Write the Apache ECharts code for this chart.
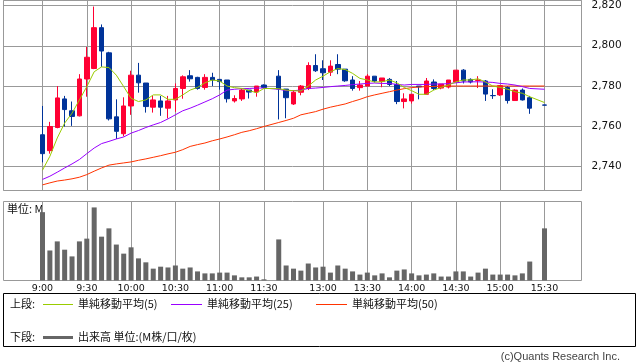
<!DOCTYPE html>
<html><head><meta charset="utf-8">
<script src="https://cdn.jsdelivr.net/npm/echarts@6/dist/echarts.min.js"></script>
<style>html,body{margin:0;padding:0;background:#fff}#c{width:638px;height:362px}</style>
</head><body><div id="c"></div>
<script>
// ---- categories (5-minute slots; '' = lunch spacer) ----
const times = ['9:00','9:05','9:10','9:15','9:20','9:25','9:30','9:35','9:40','9:45','9:50','9:55',
'10:00','10:05','10:10','10:15','10:20','10:25','10:30','10:35','10:40','10:45','10:50','10:55',
'11:00','11:05','11:10','11:15','11:20','11:25','11:30','',
'12:30','12:35','12:40','12:45','12:50','12:55','13:00','13:05','13:10','13:15','13:20','13:25',
'13:30','13:35','13:40','13:45','13:50','13:55','14:00','14:05','14:10','14:15','14:20','14:25',
'14:30','14:35','14:40','14:45','14:50','14:55','15:00','15:05','15:10','15:15','15:20','15:25','15:30'];
const gridTimes = ['9:00','9:30','10:00','10:30','11:00','11:30','13:00','13:30','14:00','14:30','15:00','15:30'];
const priceTicks = [2740,2760,2780,2800,2820];

// ---- OHLC ----
const open = [2755.8,2747.9,2759.4,2773.6,2767.7,2765.2,2783.5,2788.7,2809.0,2796.5,
2764.7,2756.3,2770.1,2785.4,2781.5,2769.5,2772.6,2769.0,2773.1,2778.8,
2785.1,2784.3,2779.3,2784.3,2783.3,2783.0,2772.6,2773.6,2778.0,2777.0,
2780.5,null,2784.9,2778.5,2771.1,2776.9,2778.8,2790.2,2788.6,2786.9,
2790.7,2788.4,2783.0,2779.2,2780.0,2784.9,2782.3,2783.3,2780.8,2772.3,
2772.6,2780.0,2775.9,2782.0,2779.0,2779.5,2782.0,2787.9,2783.3,2782.8,
2782.5,2775.3,2775.6,2779.3,2772.8,2778.0,2774.2,null,2770.6];
const close = [2746.4,2759.9,2774.1,2768.3,2764.9,2783.5,2794.3,2809.0,2797.4,2763.7,
2757.5,2770.1,2785.4,2781.6,2769.8,2773.1,2769.5,2772.6,2778.8,2784.6,
2783.6,2778.8,2784.3,2783.0,2782.2,2773.7,2773.8,2778.0,2777.0,2780.0,
2779.3,null,2778.5,2774.2,2776.9,2780.0,2790.2,2787.6,2786.6,2789.9,
2788.4,2782.6,2778.8,2780.5,2784.9,2782.5,2784.0,2780.8,2772.3,2773.6,
2775.9,2779.6,2782.5,2778.8,2781.0,2783.0,2787.9,2782.5,2782.0,2783.0,
2776.0,2775.2,2780.2,2772.8,2778.0,2773.1,2769.0,null,2770.5];
const low = [2742.1,2746.4,2759.0,2759.9,2760.2,2764.9,2774.7,2788.4,2789.5,2762.9,
2753.7,2755.0,2765.7,2776.7,2766.8,2766.8,2765.2,2763.9,2767.2,2773.7,
2782.2,2778.2,2778.2,2780.0,2778.2,2771.8,2771.8,2772.6,2773.8,2774.7,
2778.8,null,2763.4,2764.0,2770.6,2775.4,2778.0,2787.0,2783.0,2785.0,
2785.9,2782.1,2777.7,2777.7,2780.0,2781.8,2779.4,2780.0,2771.0,2768.9,
2771.3,2773.4,2775.9,2778.0,2778.4,2778.8,2782.0,2781.3,2781.3,2779.0,
2772.6,2773.6,2775.1,2771.3,2772.8,2772.8,2766.2,null,2770.5];
const high = [2770.1,2762.2,2780.0,2775.1,2772.3,2785.9,2799.4,2819.5,2810.6,2797.0,
2773.4,2774.4,2787.6,2791.5,2781.5,2775.1,2775.1,2775.1,2781.3,2785.3,
2787.9,2784.6,2785.9,2786.6,2783.5,2783.0,2775.4,2778.8,2778.0,2780.0,
2780.8,null,2787.9,2778.5,2778.0,2780.5,2791.8,2795.8,2792.8,2792.8,
2795.8,2788.4,2784.9,2782.5,2785.9,2784.9,2784.0,2784.0,2782.5,2776.4,
2775.9,2780.0,2784.0,2783.3,2781.0,2783.0,2787.9,2788.4,2783.8,2784.9,
2783.0,2778.4,2780.5,2780.0,2778.4,2778.8,2775.1,null,2770.6];

// ---- moving averages ----
const ma5 = [2738.2,2745.1,2754.2,2761.6,2766.5,2773.1,2779.7,2787.1,2789.5,2789.2,
2785.4,2779.7,2773.9,2772.3,2773.1,2775.6,2775.6,2773.4,2773.4,2775.6,
2778.0,2779.3,2781.6,2783.0,2782.5,2780.0,2779.2,2778.8,2777.7,2776.7,
2778.8,null,2778.7,2778.0,2777.7,2777.5,2780.0,2783.0,2784.9,2787.1,
2788.7,2788.2,2786.3,2783.8,2783.0,2782.0,2782.1,2783.0,2781.6,2779.3,
2777.7,2775.9,2775.9,2778.0,2779.3,2780.5,2782.1,2783.0,2783.0,2783.6,
2782.0,2780.0,2779.3,2778.4,2777.2,2776.4,2774.7,null,2771.8];
const ma25 = [2733.6,2735.2,2737.2,2739.3,2741.3,2743.5,2746.4,2749.2,2751.4,2752.5,
2753.7,2754.7,2756.6,2757.9,2759.4,2760.7,2761.9,2763.7,2765.7,2767.7,
2769.0,2770.5,2772.1,2773.7,2775.6,2778.0,2778.4,2778.7,2778.8,2779.0,
2779.0,null,2778.4,2777.7,2777.7,2778.0,2778.8,2779.0,2779.3,2779.7,
2780.0,2780.3,2780.7,2781.0,2781.3,2781.5,2781.3,2781.3,2780.8,2780.5,
2780.8,2780.8,2780.8,2781.0,2781.0,2781.2,2781.6,2782.0,2782.1,2782.1,
2782.0,2781.8,2781.3,2781.0,2780.5,2779.7,2778.8,null,2778.4];
const ma50 = [2730.9,2731.9,2732.8,2733.3,2733.9,2734.7,2736.0,2737.7,2739.3,2740.7,
2741.3,2741.8,2742.3,2743.1,2743.8,2744.6,2745.4,2746.3,2747.1,2748.4,
2750.0,2750.9,2751.7,2752.8,2753.7,2754.7,2755.8,2757.0,2757.8,2758.8,
2759.9,null,2761.9,2762.9,2764.0,2765.7,2766.5,2767.3,2768.5,2769.5,
2770.3,2771.1,2772.3,2773.4,2774.7,2775.6,2776.4,2777.2,2778.0,2778.7,
2779.2,2779.5,2779.7,2779.8,2780.0,2780.0,2780.0,2780.0,2780.0,2780.0,
2780.0,2780.0,2780.0,2780.0,2780.0,2780.0,2780.0,null,2780.0];

// ---- volume (M) ----
const volume = [1.73,0.76,0.99,0.78,0.61,0.99,1.06,1.85,1.11,1.32,
0.91,0.68,0.84,0.56,0.46,0.30,0.35,0.33,0.38,0.30,
0.33,0.23,0.18,0.18,0.20,0.20,0.13,0.08,0.08,0.10,
0.03,null,1.04,0.38,0.30,0.25,0.43,0.33,0.35,0.20,
0.38,0.30,0.23,0.15,0.20,0.13,0.18,0.08,0.25,0.28,
0.18,0.13,0.15,0.18,0.10,0.10,0.23,0.23,0.10,0.20,
0.30,0.15,0.15,0.15,0.13,0.18,0.48,null,1.32];

const legendTop = '上段:';
const legendBottom = '下段:';
const maNames = ['単純移動平均(5)','単純移動平均(25)','単純移動平均(50)'];
const volName = '出来高 単位:(M株/口/枚)';
const volUnit = '単位: M';
const credit = '(c)Quants Research Inc.';

// ---- build ----
const PAD = 5;
const padL = ['a1','a2','a3','a4','a5'];
const padR = ['b1','b2','b3','b4','b5'];
const cats = padL.concat(times, padR);
const pad = arr => Array(PAD).fill('-').concat(arr.map(v => v == null ? '-' : v), Array(PAD).fill('-'));
const candles = pad(times.map((t, i) => open[i] == null ? null : [open[i], close[i], low[i], high[i]]));
const isGrid = (idx, val) => gridTimes.indexOf(val) >= 0;

const RED = '#ff0033', BLUE = '#003399', GRIDC = '#999';
const C5 = '#99cc00', C25 = '#9900ff', C50 = '#ff3300';
const PMIN = 2728.1, PMAX = 2822.5;
const slotW = 502 / 68;
const dataLeft = 42.5 - PAD * slotW;
const dataWidth = (times.length - 1 + 2 * PAD) * slotW;
const CJK = '"Noto Sans CJK JP", sans-serif';

const chart = echarts.init(document.getElementById('c'), null, {renderer: 'canvas'});
chart.setOption({
  animation: false,
  backgroundColor: '#fff',
  grid: [
    {left: 3.5, top: 0.5, width: 578, height: 190, show: true, borderColor: GRIDC, borderWidth: 1, backgroundColor: 'transparent'},
    {left: dataLeft, top: 0.5, width: dataWidth, height: 190, show: false},
    {left: 3.5, top: 201.5, width: 578, height: 79, show: true, borderColor: GRIDC, borderWidth: 1, backgroundColor: 'transparent'},
    {left: dataLeft, top: 201.5, width: dataWidth, height: 79, show: false},
    {left: 3.5, top: 5.5, width: 578, height: 161, show: false}
  ],
  xAxis: [
    {gridIndex: 0, type: 'value', show: false, min: 0, max: 1},
    {gridIndex: 1, type: 'category', data: cats, boundaryGap: false,
     axisLine: {show: false}, axisTick: {show: false}, axisLabel: {show: false},
     splitLine: {show: true, interval: isGrid, lineStyle: {color: GRIDC, width: 1}}},
    {gridIndex: 2, type: 'value', show: false, min: 0, max: 1},
    {gridIndex: 3, type: 'category', data: cats, boundaryGap: false,
     axisLine: {show: false}, axisTick: {show: false},
     axisLabel: {show: true, interval: isGrid, margin: 3, fontSize: 9.5, fontFamily: 'DejaVu Sans', color: '#111'},
     splitLine: {show: true, interval: isGrid, lineStyle: {color: GRIDC, width: 1}}},
    {gridIndex: 4, type: 'value', show: false, min: 0, max: 1}
  ],
  yAxis: [
    {gridIndex: 0, type: 'value', min: PMIN, max: PMAX, splitNumber: 5,
     axisLine: {show: false}, axisTick: {show: false}, axisLabel: {show: false},
     splitLine: {show: true, lineStyle: {color: GRIDC, width: 1}}},
    {gridIndex: 1, type: 'value', show: false, min: PMIN, max: PMAX, splitLine: {show: false}},
    {gridIndex: 2, type: 'value', show: false, min: 0, max: 1, splitLine: {show: false}},
    {gridIndex: 3, type: 'value', show: false, min: 0, max: 2, splitLine: {show: false}},
    {gridIndex: 4, type: 'value', position: 'right', min: priceTicks[0], max: priceTicks[priceTicks.length - 1], interval: 20,
     axisLine: {show: false},
     axisTick: {show: true, inside: false, length: 8, lineStyle: {color: GRIDC}},
     axisLabel: {show: true, margin: 10, fontSize: 10.5, fontFamily: 'DejaVu Sans', color: '#111',
       formatter: v => v.toLocaleString('en-US')},
     splitLine: {show: false}}
  ],
  series: [
    {type: 'line', xAxisIndex: 1, yAxisIndex: 1, data: pad(ma50), showSymbol: false, connectNulls: true, silent: true,
     lineStyle: {color: C50, width: 1}, itemStyle: {color: C50}},
    {type: 'line', xAxisIndex: 1, yAxisIndex: 1, data: pad(ma25), showSymbol: false, connectNulls: true, silent: true,
     lineStyle: {color: C25, width: 1}, itemStyle: {color: C25}},
    {type: 'candlestick', xAxisIndex: 1, yAxisIndex: 1, data: candles, barWidth: 5, silent: true,
     itemStyle: {color: RED, color0: BLUE, borderColor: RED, borderColor0: BLUE, borderWidth: 1}},
    {type: 'line', xAxisIndex: 1, yAxisIndex: 1, data: pad(ma5), showSymbol: false, connectNulls: true, silent: true,
     lineStyle: {color: C5, width: 1}, itemStyle: {color: C5}},
    {type: 'bar', xAxisIndex: 3, yAxisIndex: 3, data: pad(volume), barWidth: 5, silent: true,
     itemStyle: {color: '#666666'}}
  ],
  graphic: [
    {type: 'text', x: 7, y: 209, style: {text: volUnit, font: '11px ' + CJK, fill: '#111', verticalAlign: 'middle'}},
    {type: 'rect', shape: {x: 3.5, y: 293.5, width: 632, height: 53}, style: {fill: 'none', stroke: '#000', lineWidth: 1}},
    {type: 'text', x: 10, y: 304, style: {text: legendTop, font: '11px ' + CJK, fill: '#111', verticalAlign: 'middle'}},
    {type: 'line', shape: {x1: 43, y1: 304.5, x2: 73, y2: 304.5}, style: {stroke: C5, lineWidth: 1}},
    {type: 'text', x: 78, y: 304, style: {text: maNames[0], font: '11px ' + CJK, fill: '#111', verticalAlign: 'middle'}},
    {type: 'line', shape: {x1: 171, y1: 304.5, x2: 202, y2: 304.5}, style: {stroke: C25, lineWidth: 1}},
    {type: 'text', x: 207, y: 304, style: {text: maNames[1], font: '11px ' + CJK, fill: '#111', verticalAlign: 'middle'}},
    {type: 'line', shape: {x1: 316, y1: 304.5, x2: 347, y2: 304.5}, style: {stroke: C50, lineWidth: 1}},
    {type: 'text', x: 352, y: 304, style: {text: maNames[2], font: '11px ' + CJK, fill: '#111', verticalAlign: 'middle'}},
    {type: 'text', x: 10, y: 337, style: {text: legendBottom, font: '11px ' + CJK, fill: '#111', verticalAlign: 'middle'}},
    {type: 'line', shape: {x1: 43, y1: 337.5, x2: 73, y2: 337.5}, style: {stroke: '#666666', lineWidth: 3}},
    {type: 'text', x: 78, y: 337, style: {text: volName, font: '11px ' + CJK, fill: '#111', verticalAlign: 'middle'}},
    {type: 'text', x: 620, y: 357, style: {text: credit, font: '11px "Liberation Sans", Arial, sans-serif', fill: '#444', align: 'right', verticalAlign: 'middle'}}
  ]
});
</script>
</body></html>
